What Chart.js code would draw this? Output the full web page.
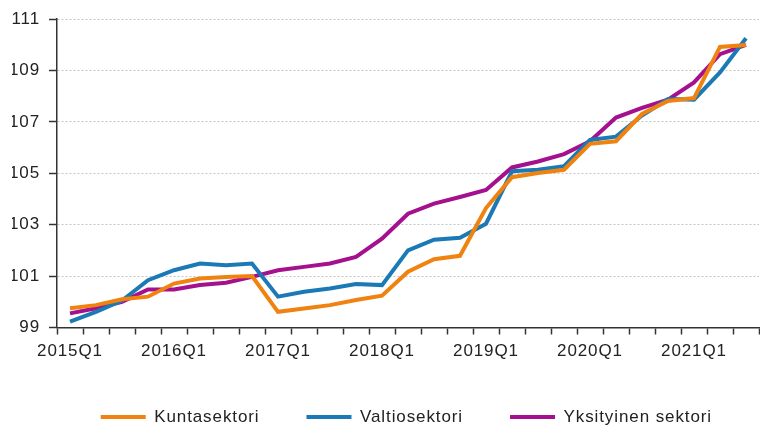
<!DOCTYPE html>
<html>
<head>
<meta charset="utf-8">
<script src="https://cdn.jsdelivr.net/npm/chart.js@4/dist/chart.umd.min.js"></script>
<style>
  body { margin: 0; background: #fff; }
  #wrap { width: 760px; height: 427px; }
</style>
</head>
<body>
<div id="wrap"><canvas id="chart"></canvas></div>
<script>
const quarters = [
  "2015Q1", "2015Q2", "2015Q3", "2015Q4",
  "2016Q1", "2016Q2", "2016Q3", "2016Q4",
  "2017Q1", "2017Q2", "2017Q3", "2017Q4",
  "2018Q1", "2018Q2", "2018Q3", "2018Q4",
  "2019Q1", "2019Q2", "2019Q3", "2019Q4",
  "2020Q1", "2020Q2", "2020Q3", "2020Q4",
  "2021Q1", "2021Q2", "2021Q3",
];

const kuntasektori = [
  99.75, 99.87, 100.1, 100.2, 100.71, 100.91, 100.97, 101.0,
  99.61, 99.74, 99.87, 100.07, 100.24, 101.17, 101.66, 101.79,
  103.65, 104.85, 105.01, 105.14, 106.15, 106.25, 107.31, 107.82,
  107.93, 109.92, 110.0,
];

const valtiosektori = [
  99.23, 99.61, 100.05, 100.84, 101.23, 101.49, 101.42, 101.49,
  100.2, 100.39, 100.52, 100.69, 100.65, 102.0, 102.42, 102.49,
  103.04, 105.08, 105.14, 105.28, 106.3, 106.43, 107.25, 107.89,
  107.87, 108.93, 110.26,
];

const yksityinen = [
  99.55, 99.75, 100.0, 100.48, 100.48, 100.65, 100.74, 100.97,
  101.23, 101.36, 101.49, 101.75, 102.46, 103.43, 103.82, 104.08,
  104.35, 105.23, 105.46, 105.75, 106.25, 107.17, 107.55, 107.87,
  108.54, 109.64, 110.0,
];

const yTicks = [99, 101, 103, 105, 107, 109, 111];

Chart.defaults.font.family = "'Liberation Sans', Arial, sans-serif";
Chart.defaults.font.size = 17;
Chart.defaults.color = "#222";

// the original text is set a little wider than plain Arial
const spacing = {
  id: "spacing",
  beforeLayout: (chart) => { chart.ctx.letterSpacing = "0.9px"; },
  beforeDraw: (chart) => { chart.ctx.letterSpacing = "0.9px"; },
};

const line = (label, data, color) => ({
  label,
  data,
  borderColor: color,
  backgroundColor: color,
  borderWidth: 4,
  pointRadius: 0,
  tension: 0,
});

const config = {
  type: "line",
  data: {
    labels: quarters,
    datasets: [
      line("Kuntasektori", kuntasektori, "#f0820f"),
      line("Valtiosektori", valtiosektori, "#1b7ab6"),
      line("Yksityinen sektori", yksityinen, "#a5108e"),
    ],
  },
  plugins: [spacing],
  options: {
    responsive: true,
    maintainAspectRatio: false,
    animation: false,
    layout: { padding: { left: 12, right: 1, top: 18, bottom: 0 } },
    plugins: {
      tooltip: { enabled: false },
      legend: {
        position: "bottom",
        align: "end",
        maxHeight: 65.5,
        labels: {
          boxWidth: 45,
          boxHeight: 4,
          padding: 47,
          generateLabels: (chart) =>
            Chart.defaults.plugins.legend.labels
              .generateLabels(chart)
              .map((item) => ({ ...item, lineWidth: 0 })),
        },
      },
    },
    scales: {
      x: {
        offset: true,
        grid: {
          offset: true,
          drawOnChartArea: false,
          tickLength: 7,
          tickColor: "#333",
          tickWidth: 1.5,
        },
        border: { color: "#333", width: 1.5 },
        ticks: {
          autoSkip: false,
          maxRotation: 0,
          minRotation: 0,
          padding: 7,
          callback: function (value) {
            const q = this.getLabelForValue(value);
            return q.endsWith("Q1") ? q : "";
          },
        },
        afterFit: (scale) => {
          scale.height = 34;
        },
      },
      y: {
        min: 99,
        max: 111,
        afterBuildTicks: (scale) => {
          scale.ticks = yTicks.map((v) => ({ value: v }));
        },
        afterFit: (scale) => {
          scale.width = 45;
        },
        grid: {
          color: "#c4c4c4",
          lineWidth: 1,
          tickLength: 8,
          tickColor: "#333",
          tickWidth: 1.5,
        },
        border: { color: "#333", width: 1.5, dash: [2, 2] },
        ticks: { padding: 9 },
      },
    },
  },
};

const ctx = document.getElementById("chart").getContext("2d");
new Chart(ctx, config);
</script>
</body>
</html>
